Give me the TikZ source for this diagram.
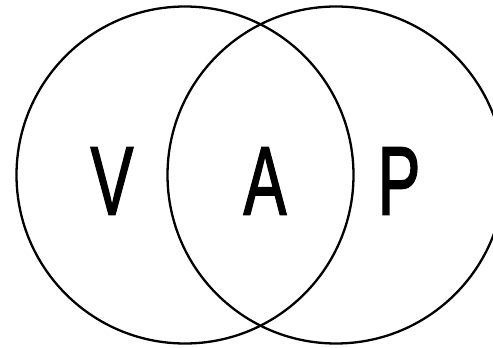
\documentclass[tikz,border=0pt]{standalone}
\usepackage{fontspec}
\setmainfont{Liberation Sans}
\newfontfamily\vapfont[FakeBold=2]{Liberation Sans}
\usetikzlibrary{positioning}

\begin{document}
\begin{tikzpicture}[x=1pt, y=-1pt, line width=2.3pt,
    set/.style={draw, circle, minimum size=337pt, inner sep=0pt},
    letter/.style={inner sep=0pt, xscale=0.66, transform shape, font=\fontsize{97}{97}\vapfont}]
          \useasboundingbox (0,0) rectangle (493,348);
          \clip (0,0) rectangle (493,348);
          \node (left) [set] at (185,175) {};
          \node (right) [set] at (336,175) {};
          \node (V) [letter] at (112,181) {V};
          \node (A) [letter] at (265,181) {A};
          \node (P) [letter] at (399,181) {P};
      \end{tikzpicture}
\end{document}
